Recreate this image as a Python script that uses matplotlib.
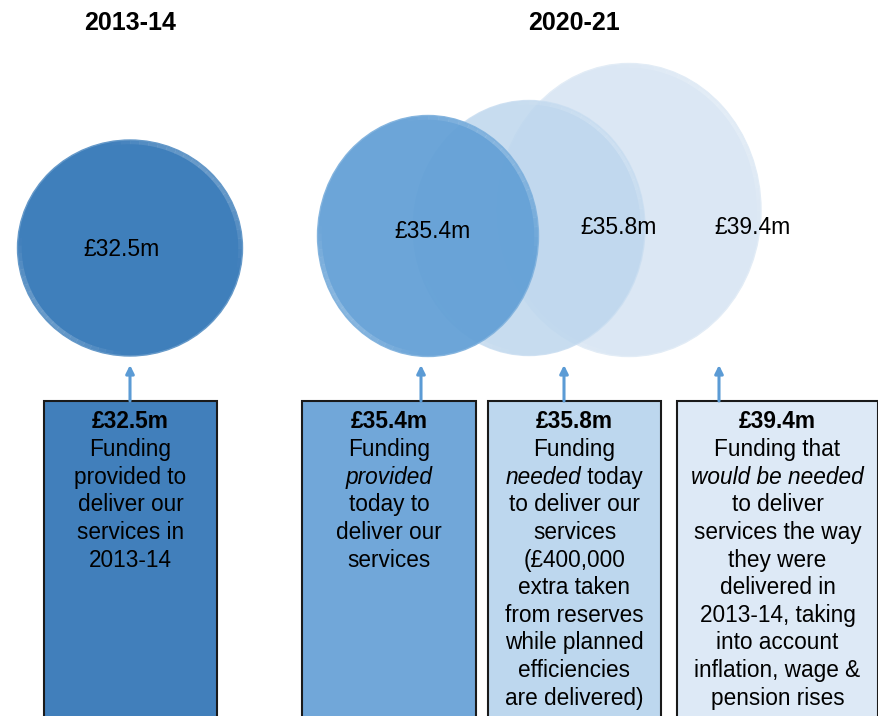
import numpy as np
import matplotlib
matplotlib.use('Agg')
import matplotlib.pyplot as plt
from matplotlib.patches import Ellipse, Arc, Rectangle
from matplotlib.colors import to_rgb

plt.rcParams['font.family'] = ['Liberation Sans', 'DejaVu Sans']

# data
years = ['2013-14', '2020-21']
values = [32.5, 35.4, 35.8, 39.4]
value_labels = ['£%.1fm' % v for v in values]
# box descriptions: list of lines, each line is a list of (text, style) pieces
descriptions = [
    [[('Funding', 'normal')], [('provided to', 'normal')], [('deliver our', 'normal')],
     [('services in', 'normal')], [('2013-14', 'normal')]],
    [[('Funding', 'normal')], [('provided', 'italic')], [('today to', 'normal')],
     [('deliver our', 'normal')], [('services', 'normal')]],
    [[('Funding', 'normal')], [('needed', 'italic'), (' today', 'normal')],
     [('to deliver our', 'normal')], [('services', 'normal')], [('(£400,000', 'normal')],
     [('extra taken', 'normal')], [('from reserves', 'normal')], [('while planned', 'normal')],
     [('efficiencies', 'normal')], [('are delivered)', 'normal')]],
    [[('Funding that', 'normal')], [('would be needed', 'italic')], [('to deliver', 'normal')],
     [('services the way', 'normal')], [('they were', 'normal')], [('delivered in', 'normal')],
     [('2013-14, taking', 'normal')], [('into account', 'normal')],
     [('inflation, wage &', 'normal')], [('pension rises', 'normal')]],
]

# layout (pixels)
circle_cx = [130, 428, 529, 629]
circle_cy = [248, 236, 228, 210]
circle_w = [225, 221, 232, 264]
circle_h = [216, 241, 255, 293]
circle_colors = ['#3f7fbb', '#63a0d6', '#bdd6ed', '#dbe7f4']
circle_alpha = [1.0, 0.94, 0.85, 1.0]
circle_z = [3, 5, 4, 3]
label_x = [122, 433, 619, 753]
label_y = [250, 232, 228, 228]

box_x0 = [44, 302, 488, 677]
box_x1 = [217, 476, 661, 878]
box_top = 401
box_colors = ['#417fbb', '#71a7d9', '#bdd7ee', '#dde9f6']
arrow_x = [130, 421, 564, 719]
title_x = [130, 574]

fig = plt.figure(figsize=(8.79, 7.16), dpi=100)
ax = fig.add_axes([0, 0, 1, 1])
ax.set_xlim(0, 879)
ax.set_ylim(716, 0)
ax.axis('off')

for t, x in zip(years, title_x):
    ax.text(x, 23, t, ha='center', va='center', fontsize=18, fontweight='bold')

def lighten(c, f):
    r = np.array(to_rgb(c))
    return tuple(r + (1 - r) * f)

for i in range(4):
    c = circle_colors[i]
    e = Ellipse((circle_cx[i], circle_cy[i]), circle_w[i], circle_h[i],
                facecolor=c, edgecolor=lighten(c, 0.2), lw=1.0,
                alpha=circle_alpha[i], zorder=circle_z[i])
    ax.add_patch(e)
    # soft bevel highlights, faded at both ends
    for t1, t2 in [(260, 370), (95, 185)]:
        segs = np.linspace(t1, t2, 23)
        for a0, a1 in zip(segs[:-1], segs[1:]):
            mid = (a0 + a1) / 2
            al = 0.55 * np.sin(np.pi * (mid - t1) / (t2 - t1))
            arc = Arc((circle_cx[i], circle_cy[i]), circle_w[i] - 5, circle_h[i] - 5,
                      theta1=a0, theta2=a1 + 0.3, color=lighten(c, 0.4), lw=2.5,
                      alpha=al, zorder=circle_z[i] + 0.1)
            ax.add_patch(arc)
    ax.text(label_x[i], label_y[i], value_labels[i], ha='center', va='center',
            fontsize=16.5, zorder=10)

fig.canvas.draw()
renderer = fig.canvas.get_renderer()

line_gap = 27.6
for i in range(4):
    r = Rectangle((box_x0[i], box_top), box_x1[i] - box_x0[i], 400,
                  facecolor=box_colors[i], edgecolor='#1a1a1a', lw=1.5, zorder=6)
    ax.add_patch(r)
    ax.annotate('', xy=(arrow_x[i], 365), xytext=(arrow_x[i], box_top),
                arrowprops=dict(arrowstyle='-|>', color='#5b9bd5', lw=2.2,
                                mutation_scale=12, shrinkA=0, shrinkB=0), zorder=7)
    cx = (box_x0[i] + box_x1[i]) / 2
    y = 422
    ax.text(cx, y, value_labels[i], ha='center', va='center', fontsize=16.3,
            fontweight='bold', zorder=8)
    for line in descriptions[i]:
        y += line_gap
        texts = []
        widths = []
        for s, st in line:
            t = ax.text(0, y, s, ha='left', va='center', fontsize=16.3,
                        style=st, zorder=8)
            texts.append(t)
            widths.append(t.get_window_extent(renderer).width)
        x = cx - sum(widths) / 2
        for t, w in zip(texts, widths):
            t.set_x(x)
            x += w

fig.savefig('out.png', dpi=100)
